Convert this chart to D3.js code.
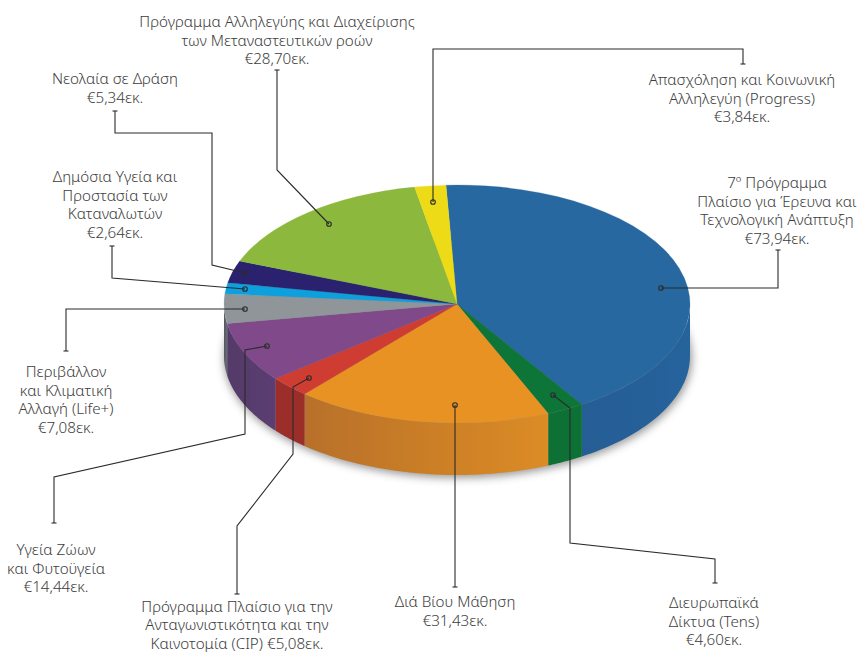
<!DOCTYPE html>
<html>
<head>
<meta charset="utf-8">
<script src="https://cdnjs.cloudflare.com/ajax/libs/d3/7.8.5/d3.min.js"></script>
<style>
  body { margin: 0; background: #fff; }
  text { font-family: "Noto Sans", "Open Sans", sans-serif; font-weight: 300; font-size: 15.2px; fill: #3d3d3d; }
</style>
</head>
<body>
<div id="chart"></div>
<script>
/* DATA */
const programmes = ["Research", "Tens", "Lifelong", "CIP", "Health", "Life", "Consumers", "Youth", "Migration", "Progress"];
const amounts = [73.94, 4.60, 31.43, 5.08, 14.44, 7.08, 2.64, 5.34, 28.70, 3.84];
const topColors = ["#27689f", "#0a7538", "#e79224", "#cf3e33", "#7f4a8a", "#8f9599", "#0da0dc", "#29246e", "#8bb83c", "#ecdb15"];
const sideLeft = ["#275d95", "#0a6f36", "#b8702a", "#9c2d2b", "#533a69", "#55565f", "#0a80b0", "#201c58", "#6f9530", "#bcae10"];
const sideRight = ["#28639c", "#0a6f36", "#dc8c25", "#9c2d2b", "#5c3d72", "#6b6e75", "#0a80b0", "#201c58", "#6f9530", "#bcae10"];
const labelLines = [
  ["7º Πρόγραμμα", "Πλαίσιο για Έρευνα και", "Τεχνολογική Ανάπτυξη", "{v}"],
  ["Διευρωπαϊκά", "Δίκτυα (Tens)", "{v}"],
  ["Διά Βίου Μάθηση", "{v}"],
  ["Πρόγραμμα Πλαίσιο για την", "Ανταγωνιστικότητα και την", "Καινοτομία (CIP) {v}"],
  ["Υγεία Ζώων", "και Φυτοϋγεία", "{v}"],
  ["Περιβάλλον", "και Κλιματική", "Αλλαγή (Life+)", "{v}"],
  ["Δημόσια Υγεία και", "Προστασία των", "Καταναλωτών", "{v}"],
  ["Νεολαία σε Δράση", "{v}"],
  ["Πρόγραμμα Αλληλεγύης και Διαχείρισης", "των Μεταναστευτικών ροών", "{v}"],
  ["Απασχόληση και Κοινωνική", "Αλληλεγύη (Progress)", "{v}"]
];

/* LAYOUT */
const width = 857, height = 653;
const cx = 457, cy = 304, rx = 233, ry = 119, depth = 52;
const startDeg = -2.7;
const lineGap = 18.7;
// center x and first baseline of every label
const labelPos = [[777, 188], [714, 608], [455, 607], [237, 611.5], [56, 555], [66, 377], [115, 182], [115, 84], [277, 27], [742, 85]];
// leader lines, from the dot on the slice to the cap near the label
const leaders = [
  [[661, 288], [778, 288], [778, 250]],
  [[553, 395], [570, 408], [570, 543], [715, 559], [715, 583]],
  [[455, 405], [455, 587]],
  [[309, 378], [293, 387], [293, 454], [237, 526], [237, 594]],
  [[267, 346], [245, 350], [245, 434], [54, 477], [54, 523]],
  [[245, 309], [66, 309], [66, 351]],
  [[245, 289], [112, 278], [112, 246]],
  [[245, 273], [212, 265], [212, 133], [115, 133], [115, 111]],
  [[329, 224], [277, 170], [277, 70]],
  [[433, 202], [433, 49], [743, 49], [743, 64]]
];

const formatAmount = d => "€" + d3.format(".2f")(d).replace(".", ",") + "εκ.";

const svg = d3.select("#chart").append("svg")
  .attr("width", width)
  .attr("height", height)
  .style("display", "block");

const defs = svg.append("defs");
defs.append("filter").attr("id", "soft")
  .attr("x", "-10%").attr("y", "-10%").attr("width", "120%").attr("height", "130%")
  .append("feGaussianBlur").attr("stdDeviation", 4);
defs.append("filter").attr("id", "edge")
  .append("feGaussianBlur").attr("stdDeviation", 0.45);

const pie = d3.pie()
  .sort(null)
  .startAngle(startDeg * Math.PI / 180)
  .endAngle(startDeg * Math.PI / 180 + 2 * Math.PI);
const slices = pie(amounts);

const arc = d3.arc().innerRadius(0).outerRadius(rx);
const rimPoint = (a, dy) => [cx + rx * Math.sin(a), cy - ry * Math.cos(a) + dy];
const line = d3.line();

// soft shadow under the pie
svg.append("ellipse")
  .attr("cx", cx + 1).attr("cy", cy + depth + 2)
  .attr("rx", rx + 1).attr("ry", ry + 1)
  .attr("fill", "#555")
  .attr("opacity", 0.6)
  .attr("filter", "url(#soft)");

const pieGroup = svg.append("g").attr("filter", "url(#edge)");

// side walls, only the front half of the pie shows them
const wallFrom = Math.PI / 2, wallTo = 3 * Math.PI / 2;
slices.forEach((s, i) => {
  const a0 = Math.max(s.startAngle, wallFrom), a1 = Math.min(s.endAngle, wallTo);
  if (a1 <= a0) return;
  const steps = d3.range(0, 41).map(k => a0 + (a1 - a0) * k / 40);
  const pts = steps.map(a => rimPoint(a, 0)).concat(steps.slice().reverse().map(a => rimPoint(a, depth)));
  const xs = d3.extent(pts, p => p[0]);
  const grad = defs.append("linearGradient")
    .attr("id", "wall" + i)
    .attr("gradientUnits", "userSpaceOnUse")
    .attr("x1", xs[0]).attr("x2", xs[1]).attr("y1", 0).attr("y2", 0);
  grad.append("stop").attr("offset", 0).attr("stop-color", sideLeft[i]);
  grad.append("stop").attr("offset", 1).attr("stop-color", sideRight[i]);
  pieGroup.append("path")
    .attr("d", line(pts) + "Z")
    .attr("fill", `url(#wall${i})`);
});

// top face
pieGroup.append("g")
  .attr("transform", `translate(${cx},${cy}) scale(1,${ry / rx})`)
  .selectAll("path")
  .data(slices)
  .join("path")
  .attr("class", (d, i) => "slice " + programmes[i])
  .attr("d", arc)
  .attr("fill", (d, i) => topColors[i])
  .attr("stroke", (d, i) => topColors[i])
  .attr("stroke-width", 0.3);

// leaders
const leaderGroup = svg.append("g");
leaderGroup.selectAll("path.leader")
  .data(leaders)
  .join("path")
  .attr("class", "leader")
  .attr("d", d => line(d))
  .attr("fill", "none")
  .attr("stroke", "#2b2b2b")
  .attr("stroke-width", 1.1);
leaderGroup.selectAll("line.cap")
  .data(leaders)
  .join("line")
  .attr("class", "cap")
  .attr("x1", d => d[d.length - 1][0] - 2.5)
  .attr("x2", d => d[d.length - 1][0] + 2.5)
  .attr("y1", d => d[d.length - 1][1])
  .attr("y2", d => d[d.length - 1][1])
  .attr("stroke", "#2b2b2b")
  .attr("stroke-width", 1.1);
leaderGroup.selectAll("circle")
  .data(leaders)
  .join("circle")
  .attr("cx", d => d[0][0])
  .attr("cy", d => d[0][1])
  .attr("r", 2.3)
  .attr("fill", "none")
  .attr("stroke", "#2b2b2b")
  .attr("stroke-width", 1.1);

// labels
svg.append("g").selectAll("g")
  .data(labelLines)
  .join("g")
  .each(function (lines, i) {
    d3.select(this).selectAll("text")
      .data(lines)
      .join("text")
      .attr("x", labelPos[i][0])
      .attr("y", (d, k) => labelPos[i][1] + k * lineGap)
      .attr("text-anchor", "middle")
      .text(d => d.replace("{v}", formatAmount(amounts[i])));
  });
</script>
</body>
</html>
